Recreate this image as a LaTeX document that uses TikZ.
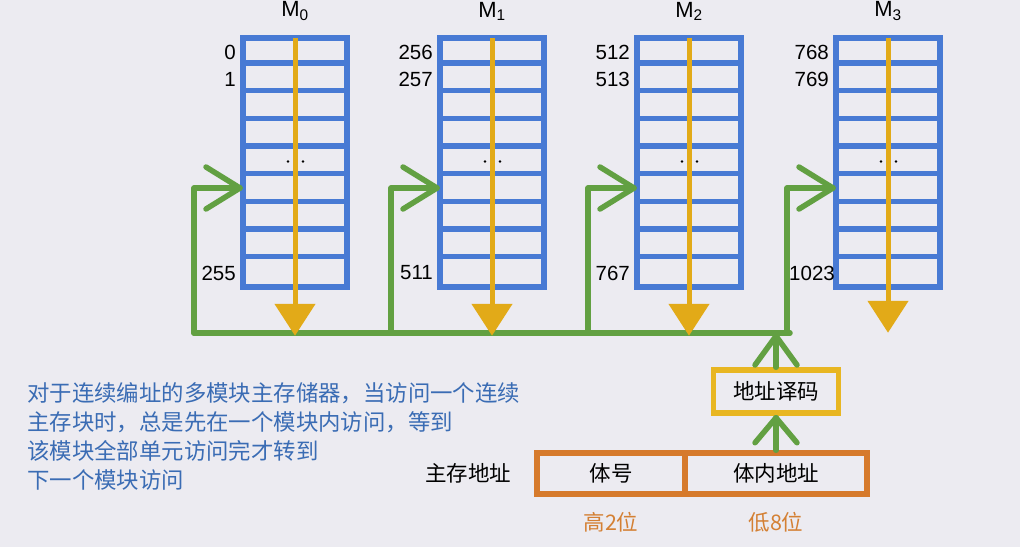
\documentclass[tikz,border=0pt]{standalone}
\usepackage{fontspec}
\setmainfont{Liberation Sans}
\newfontfamily\cjk{Noto Sans CJK SC}
\usetikzlibrary{calc,arrows.meta}
\definecolor{bg}{RGB}{236,235,241}
\definecolor{memblue}{RGB}{72,122,212}
\definecolor{arrowgold}{RGB}{226,170,24}
\definecolor{busgreen}{RGB}{98,160,66}
\definecolor{addrorange}{RGB}{214,122,44}
\definecolor{decgold}{RGB}{232,182,34}
\definecolor{textblue}{RGB}{58,108,180}
\definecolor{textorange}{RGB}{212,128,52}
\tikzset{
  membox/.style={draw=memblue, line width=5.5pt, minimum width=104pt, minimum height=249pt, inner sep=0pt},
  memline/.style={draw=memblue, line width=5.5pt},
  goldarrow/.style={draw=arrowgold, line width=5pt, -{Triangle[width=40pt,length=32pt]}, fill=arrowgold},
  greenline/.style={draw=busgreen, line width=5.5pt, line cap=round, line join=round},
  numlabel/.style={font=\fontsize{20.5}{22}\selectfont, anchor=east, inner sep=0pt},
  modlabel/.style={font=\fontsize{22}{24}\selectfont, inner sep=0pt},
  decbox/.style={draw=decgold, line width=5.5pt, minimum width=125pt, minimum height=43pt, inner sep=0pt, font=\cjk\fontsize{21.5}{24}\selectfont},
  addrbox/.style={draw=addrorange, line width=5.5pt, minimum height=41pt, inner sep=0pt, font=\cjk\fontsize{21.5}{24}\selectfont},
  bluetext/.style={font=\cjk\fontsize{22.4}{26}\selectfont, text=textblue, anchor=west, inner sep=0pt},
  blacktext/.style={font=\cjk\fontsize{21.5}{24}\selectfont, inner sep=0pt},
  orangetext/.style={font=\cjk\fontsize{21.5}{24}\selectfont, text=textorange, inner sep=0pt}
}
\begin{document}
\begin{tikzpicture}[x=1pt,y=-1pt]
\fill[bg] (0,0) rectangle (1020,547);
\useasboundingbox (0,0) rectangle (1020,547);

% bus
\coordinate (b0) at (194,333);
\coordinate (b3) at (790,333);
\coordinate (bd) at (776,333);
\draw[greenline] (b0) -- (b3);

\foreach \i/\L/\a/\b/\c/\cx/\tip in {0/243/0/1/255/236/46, 1/440/256/257/511/433/46, 2/637/512/513/767/630/46, 3/836/768/769/1023/835/43}{
  \node[membox] (m\i) at (\L+52,162.5) {};
  \foreach \k in {1,...,8}
    \draw[memline] ($(m\i.north west)+(0,\k*27.67)$) -- ($(m\i.north east)+(0,\k*27.67)$);
  \node[modlabel] (lab\i) at ($(m\i.north)+(0,-24)$) {M\textsubscript{\i}};
  \node[numlabel] (na\i) at (\L-7,52) {\a};
  \node[numlabel] (nb\i) at (\L-7,79.5) {\b};
  \node[numlabel] (nc\i) at (\cx,273) {\c};
  % dots
  \fill ($(m\i.center)+(-7,-1)$) circle (1.3pt);
  \fill ($(m\i.center)+(8,-1)$) circle (1.3pt);
  % gold arrow
  \draw[goldarrow] ($(m\i.north)+(0,3)$) -- ($(m\i.south)+(0,\tip)$);
  % green feed with chevron
  \coordinate (v\i) at (\L-49,333);
  \coordinate (t\i) at (\L-3,188);
  \draw[greenline] (v\i) |- (t\i);
  \draw[greenline] ($(t\i)+(-34,-21)$) -- (t\i) -- ($(t\i)+(-34,21)$);
}

% decoder and address
\node[decbox] (dec) at (776,391.5) {地址译码};
\node[addrbox, minimum width=148pt] (tihao) at (611,473.5) {体号};
\node[addrbox, minimum width=182pt] (neibu) at (776,473.5) {体内地址};

% arrows into decoder and to bus
\coordinate (tl) at ($(dec.south)+(0,2)$);
\draw[greenline] (neibu.north) -- (tl);
\draw[greenline] ($(tl)+(-21,25)$) -- (tl) -- ($(tl)+(21,25)$);
\coordinate (tu) at ($(bd)+(0,3)$);
\draw[greenline] (dec.north) -- (tu);
\draw[greenline] ($(tu)+(-21,29)$) -- (tu) -- ($(tu)+(21,29)$);

\node[blacktext] (zcdz) at (468,473) {主存地址};
\node[orangetext] (gao) at (611,522) {高2位};
\node[orangetext] (di) at (776,522) {低8位};

\node[bluetext] (t1) at (27,393) {对于连续编址的多模块主存储器，当访问一个连续};
\node[bluetext] (t2) at (27,422) {主存块时，总是先在一个模块内访问，等到};
\node[bluetext] (t3) at (27,451) {该模块全部单元访问完才转到};
\node[bluetext] (t4) at (27,480) {下一个模块访问};
\end{tikzpicture}
\end{document}
